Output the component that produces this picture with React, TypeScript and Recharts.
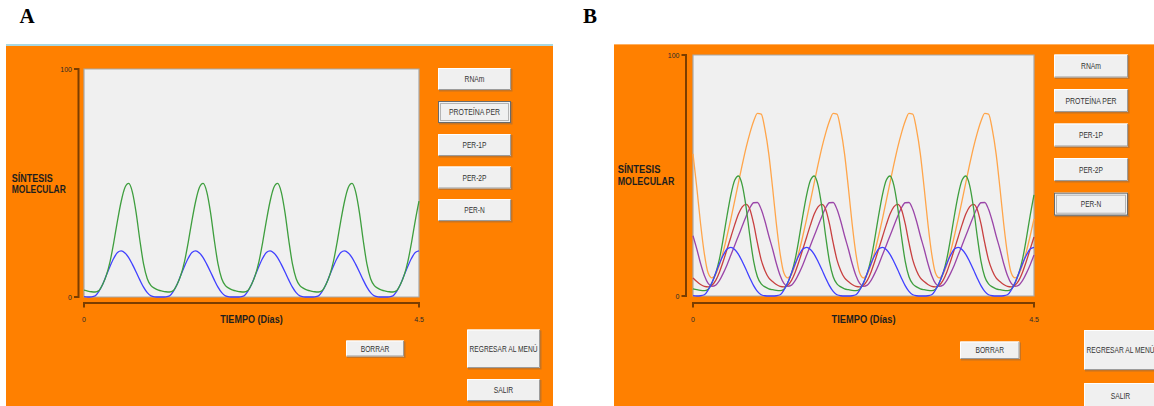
import React from 'react';
import { LineChart, Line, XAxis, YAxis, CartesianGrid, ReferenceArea } from 'recharts';

// ---------- data ----------
const TIME = [
  0, 0.05, 0.1, 0.15, 0.2, 0.25, 0.3, 0.35, 0.4, 0.45, 0.5, 0.55, 0.6, 0.65, 0.7, 0.75, 0.8, 0.85, 0.9, 0.95,
  1, 1.05, 1.1, 1.15, 1.2, 1.25, 1.3, 1.35, 1.4, 1.45, 1.5, 1.55, 1.6, 1.65, 1.7, 1.75, 1.8, 1.85, 1.9, 1.95,
  2, 2.05, 2.1, 2.15, 2.2, 2.25, 2.3, 2.35, 2.4, 2.45, 2.5, 2.55, 2.6, 2.65, 2.7, 2.75, 2.8, 2.85, 2.9, 2.95,
  3, 3.05, 3.1, 3.15, 3.2, 3.25, 3.3, 3.35, 3.4, 3.45, 3.5, 3.55, 3.6, 3.65, 3.7, 3.75, 3.8, 3.85, 3.9, 3.95,
  4, 4.05, 4.1, 4.15, 4.2, 4.25, 4.3, 4.35, 4.4, 4.45, 4.5,
];

const RNAM = [
  0.2, 0.0, 0.1, 0.5, 2.5, 5.5, 9.5, 13.5, 17.0, 19.5, 20.2, 19.3, 17.3, 14.3, 11.0, 7.5, 4.3, 1.9, 0.5, 0.1,
  0.0, 0.0, 0.1, 0.5, 2.5, 5.5, 9.5, 13.5, 17.0, 19.5, 20.2, 19.3, 17.3, 14.3, 11.0, 7.5, 4.3, 1.9, 0.5, 0.1,
  0.0, 0.0, 0.1, 0.5, 2.5, 5.5, 9.5, 13.5, 17.0, 19.5, 20.2, 19.3, 17.3, 14.3, 11.0, 7.5, 4.3, 1.9, 0.5, 0.1,
  0.0, 0.0, 0.1, 0.5, 2.5, 5.5, 9.5, 13.5, 17.0, 19.5, 20.2, 19.3, 17.3, 14.3, 11.0, 7.5, 4.3, 1.9, 0.5, 0.1,
  0.0, 0.0, 0.1, 0.5, 2.5, 5.5, 9.5, 13.5, 17.0, 19.5, 20.2,
];

const PROTEINA_PER = [
  3.0, 2.6, 2.3, 2.2, 2.8, 5.5, 9.5, 15.5, 24.0, 33.5, 42.0, 48.0, 49.8, 46.0, 37.0, 25.0, 14.5, 8.0, 5.0, 3.8,
  3.0, 2.6, 2.3, 2.2, 2.8, 5.5, 9.5, 15.5, 24.0, 33.5, 42.0, 48.0, 49.8, 46.0, 37.0, 25.0, 14.5, 8.0, 5.0, 3.8,
  3.0, 2.6, 2.3, 2.2, 2.8, 5.5, 9.5, 15.5, 24.0, 33.5, 42.0, 48.0, 49.8, 46.0, 37.0, 25.0, 14.5, 8.0, 5.0, 3.8,
  3.0, 2.6, 2.3, 2.2, 2.8, 5.5, 9.5, 15.5, 24.0, 33.5, 42.0, 48.0, 49.8, 46.0, 37.0, 25.0, 14.5, 8.0, 5.0, 3.8,
  3.0, 2.6, 2.3, 2.2, 2.8, 5.5, 9.5, 15.5, 24.0, 33.5, 42.0,
];

const PER_1P = [
  7.5, 6.0, 4.8, 4.0, 3.8, 4.5, 6.5, 10.0, 14.5, 19.5, 24.5, 29.5, 34.0, 37.0, 38.0, 36.0, 30.0, 22.0, 15.0, 10.5,
  7.5, 6.0, 4.8, 4.0, 3.8, 4.5, 6.5, 10.0, 14.5, 19.5, 24.5, 29.5, 34.0, 37.0, 38.0, 36.0, 30.0, 22.0, 15.0, 10.5,
  7.5, 6.0, 4.8, 4.0, 3.8, 4.5, 6.5, 10.0, 14.5, 19.5, 24.5, 29.5, 34.0, 37.0, 38.0, 36.0, 30.0, 22.0, 15.0, 10.5,
  7.5, 6.0, 4.8, 4.0, 3.8, 4.5, 6.5, 10.0, 14.5, 19.5, 24.5, 29.5, 34.0, 37.0, 38.0, 36.0, 30.0, 22.0, 15.0, 10.5,
  7.5, 6.0, 4.8, 4.0, 3.8, 4.5, 6.5, 10.0, 14.5, 19.5, 24.5,
];

const PER_2P = [
  25.0, 19.5, 13.5, 8.5, 5.2, 4.0, 4.5, 6.5, 9.5, 13.0, 17.0, 21.0, 25.0, 29.0, 33.0, 36.5, 38.7, 38.8, 36.0, 31.0,
  25.0, 19.5, 13.5, 8.5, 5.2, 4.0, 4.5, 6.5, 9.5, 13.0, 17.0, 21.0, 25.0, 29.0, 33.0, 36.5, 38.7, 38.8, 36.0, 31.0,
  25.0, 19.5, 13.5, 8.5, 5.2, 4.0, 4.5, 6.5, 9.5, 13.0, 17.0, 21.0, 25.0, 29.0, 33.0, 36.5, 38.7, 38.8, 36.0, 31.0,
  25.0, 19.5, 13.5, 8.5, 5.2, 4.0, 4.5, 6.5, 9.5, 13.0, 17.0, 21.0, 25.0, 29.0, 33.0, 36.5, 38.7, 38.8, 36.0, 31.0,
  25.0, 19.5, 13.5, 8.5, 5.2, 4.0, 4.5, 6.5, 9.5, 13.0, 17.0,
];

const PER_N = [
  59.0, 45.0, 30.0, 17.5, 9.5, 7.5, 9.0, 13.0, 18.5, 25.0, 32.0, 39.5, 47.0, 54.5, 61.5, 67.5, 72.5, 75.8, 75.5, 69.0,
  59.0, 45.0, 30.0, 17.5, 9.5, 7.5, 9.0, 13.0, 18.5, 25.0, 32.0, 39.5, 47.0, 54.5, 61.5, 67.5, 72.5, 75.8, 75.5, 69.0,
  59.0, 45.0, 30.0, 17.5, 9.5, 7.5, 9.0, 13.0, 18.5, 25.0, 32.0, 39.5, 47.0, 54.5, 61.5, 67.5, 72.5, 75.8, 75.5, 69.0,
  59.0, 45.0, 30.0, 17.5, 9.5, 7.5, 9.0, 13.0, 18.5, 25.0, 32.0, 39.5, 47.0, 54.5, 61.5, 67.5, 72.5, 75.8, 75.5, 69.0,
  59.0, 45.0, 30.0, 17.5, 9.5, 7.5, 9.0, 13.0, 18.5, 25.0, 32.0,
];

const X_TICKS = [0, 4.5];
const Y_TICKS = [0, 100];
const BUTTON_LABELS = ['RNAm', 'PROTEÍNA PER', 'PER-1P', 'PER-2P', 'PER-N'];
const X_LABEL = 'TIEMPO (Días)';
const Y_LABEL = ['SÍNTESIS', 'MOLECULAR'];

const rows = TIME.map((t, i) => ({
  t,
  rnam: RNAM[i],
  per: PROTEINA_PER[i],
  per1p: PER_1P[i],
  per2p: PER_2P[i],
  pern: PER_N[i],
}));

// ---------- styles ----------
const SANS = '"Liberation Sans", Arial, "DejaVu Sans", sans-serif';
const SERIF = '"Liberation Serif", "DejaVu Serif", serif';
const ORANGE = '#FF8000';
const AXIS = '#7A3D00';
const TEXT = '#1E1E1E';

// label widths of the narrow GUI font (layout only)
const BTN_TEXT_W: Record<string, number> = {
  'RNAm': 20,
  'PROTEÍNA PER': 51,
  'PER-1P': 24,
  'PER-2P': 24,
  'PER-N': 20.5,
  'BORRAR': 28.6,
  'SALIR': 19.5,
  'REGRESAR AL MENÚ': 68,
};

const SERIES_A = [
  { key: 'rnam', color: '#4040FF' },
  { key: 'per', color: '#3E9E3E' },
];
const SERIES_B = [
  { key: 'pern', color: '#FFA54A' },
  { key: 'per2p', color: '#9A45A8' },
  { key: 'per1p', color: '#C84040' },
  { key: 'per', color: '#3E9E3E' },
  { key: 'rnam', color: '#4040FF' },
];

type BtnProps = { x: number; y: number; w: number; h: number; label: string; pressed?: boolean };

function Btn({ x, y, w, h, label, pressed }: BtnProps) {
  return (
    <g>
      <rect x={x + 1} y={y + 1} width={w + 0.5} height={h + 0.5} fill="#9A6A40" opacity={0.55} />
      <rect x={x} y={y} width={w} height={h} fill="#F0F0F0" />
      <path d={`M${x + 0.5},${y + h - 0.5} V${y + 0.5} H${x + w - 0.5}`} stroke="#FFFFFF" fill="none" />
      <path d={`M${x + 0.5},${y + h - 0.5} H${x + w - 0.5} V${y + 0.5}`} stroke="#9C9C9C" fill="none" />
      {pressed && (
        <rect x={x + 0.5} y={y + 0.5} width={w - 1} height={h - 1} fill="none" stroke="#6A6A6A" />
      )}
      {pressed && (
        <rect x={x + 2.5} y={y + 2.5} width={w - 5} height={h - 5} fill="none" stroke="#B4B4B4" />
      )}
      <text
        x={x + w / 2}
        y={y + h / 2 + 3}
        textAnchor="middle"
        fontSize={8.3}
        fill="#333333"
        fontFamily={SANS}
        textLength={BTN_TEXT_W[label]}
        lengthAdjust="spacingAndGlyphs"
      >
        {label}
      </text>
    </g>
  );
}

// axis ticks drawn a few pixels away from the plot frame, like the original GUI
const makeXTick = (gap: number, plotW: number, textDy: number) => (props: any) => {
  const { x, y, payload, index } = props;
  const ay = y + gap;
  return (
    <g>
      {index === 0 && <line x1={x - 1} x2={x + plotW + 1} y1={ay} y2={ay} stroke={AXIS} strokeWidth={2} />}
      <line x1={x} x2={x} y1={ay} y2={ay + 4.5} stroke={AXIS} strokeWidth={2} />
      <text x={x} y={y + textDy} textAnchor="middle" fontSize={7} fill="#2A2A2A" fontFamily={SANS}>
        {payload.value}
      </text>
    </g>
  );
};

const makeYTick = (gap: number, plotH: number) => (props: any) => {
  const { x, y, payload } = props;
  const ax = x - gap;
  return (
    <g>
      {payload.value === 0 && <line x1={ax} x2={ax} y1={y + 1} y2={y - plotH - 1} stroke={AXIS} strokeWidth={2} />}
      <line x1={ax - 4.5} x2={ax} y1={y} y2={y} stroke={AXIS} strokeWidth={2} />
      <text x={ax - 6.5} y={y + 2.5} textAnchor="end" fontSize={7} fill="#2A2A2A" fontFamily={SANS}>
        {payload.value}
      </text>
    </g>
  );
};

const makeXLabel = (dy: number, w: number) => (props: any) => {
  const vb = props.viewBox || {};
  return (
    <text
      x={vb.x + vb.width / 2}
      y={vb.y + dy}
      textAnchor="middle"
      fontSize={10.5}
      fontWeight={700}
      fill={TEXT}
      fontFamily={SANS}
      textLength={w}
      lengthAdjust="spacingAndGlyphs"
    >
      {X_LABEL}
    </text>
  );
};

type PanelProps = {
  id: string;
  left: number;
  top: number;
  width: number;
  height: number;
  margin: { top: number; right: number; bottom: number; left: number };
  yWidth: number;
  gapX: number;
  gapY: number;
  labelW: number;
  series: { key: string; color: string }[];
};

function Panel({ id, left, top, width, height, margin, yWidth, gapX, gapY, labelW, series }: PanelProps) {
  const plotW = width - margin.left - margin.right - yWidth;
  const plotH = height - margin.top - margin.bottom - 30;
  const frameBottom = top + height - margin.bottom - 30;
  return (
    <div id={`panel${id}`} style={{ position: 'absolute', left, top, width, height }}>
      <LineChart width={width} height={height} data={rows} margin={margin}>
        <CartesianGrid horizontal={false} vertical={false} fill="#F0F0F0" fillOpacity={1} />
        <XAxis
          dataKey="t"
          type="number"
          domain={[0, 4.5]}
          ticks={X_TICKS}
          height={30}
          axisLine={false}
          tickLine={false}
          tickSize={0}
          tickMargin={0}
          tick={makeXTick(gapX, plotW, 321.5 - frameBottom)}
          label={makeXLabel(323 - frameBottom, labelW)}
        />
        <YAxis
          type="number"
          domain={[0, 100]}
          ticks={Y_TICKS}
          width={yWidth}
          axisLine={false}
          tickLine={false}
          tickSize={0}
          tickMargin={0}
          tick={makeYTick(gapY, plotH)}
        />
        <ReferenceArea x1={0} x2={4.5} y1={0} y2={100} fill="none" stroke="#A8A8A8" strokeWidth={1.2} ifOverflow="visible" />
        {series.map((s) => (
          <Line
            key={s.key}
            dataKey={s.key}
            stroke={s.color}
            strokeWidth={1.3}
            type="monotone"
            dot={false}
            activeDot={false}
            isAnimationActive={false}
          />
        ))}
      </LineChart>
    </div>
  );
}

const BTN_A_Y = [68, 101, 134, 166.5, 199];
const BTN_B_Y = [54.5, 89, 123.5, 158, 192.7];

function YLabel({ x, y1, y2, w1, w2 }: { x: number; y1: number; y2: number; w1: number; w2: number }) {
  return (
    <g>
      <text x={x} y={y1} fontFamily={SANS} fontWeight={700} fontSize={10.5} fill={TEXT} textLength={w1} lengthAdjust="spacingAndGlyphs">
        {Y_LABEL[0]}
      </text>
      <text x={x} y={y2} fontFamily={SANS} fontWeight={700} fontSize={10.5} fill={TEXT} textLength={w2} lengthAdjust="spacingAndGlyphs">
        {Y_LABEL[1]}
      </text>
    </g>
  );
}

export default function App() {
  return (
    <div style={{ position: 'absolute', left: 0, top: 0, width: 1154, height: 406, background: '#FFFFFF', overflow: 'hidden' }}>
      <svg width={1154} height={406} style={{ position: 'absolute', left: 0, top: 0 }}>
        {/* panel letters */}
        <text x={19.5} y={22.7} fontFamily={SERIF} fontWeight={700} fontSize={21} fill="#000">A</text>
        <text x={583} y={22.7} fontFamily={SERIF} fontWeight={700} fontSize={21} fill="#000">B</text>

        {/* window A */}
        <rect x={6} y={44} width={547} height={2} fill="#A8D8E2" />
        <rect x={6} y={46} width={547} height={360} fill={ORANGE} />
        {/* window B */}
        <rect x={614} y={44} width={540} height={362} fill={ORANGE} />
        <rect x={614} y={44} width={540} height={1} fill="#FFB060" />

        {/* y labels */}
        <YLabel x={11.8} y1={181.5} y2={192.5} w1={41} w2={54} />
        <YLabel x={617.7} y1={173.3} y2={185} w1={42.8} w2={56.6} />

        {/* buttons A */}
        {BUTTON_LABELS.map((l, i) => (
          <Btn key={`a${i}`} x={438} y={BTN_A_Y[i]} w={73} h={22} label={l} pressed={i === 1} />
        ))}
        <Btn x={346} y={340.5} w={58} h={16} label="BORRAR" />
        <Btn x={467} y={329.5} w={73} h={38.5} label="REGRESAR AL MENÚ" />
        <Btn x={467} y={379} w={73} h={22} label="SALIR" />

        {/* buttons B */}
        {BUTTON_LABELS.map((l, i) => (
          <Btn key={`b${i}`} x={1054} y={BTN_B_Y[i]} w={74} h={23} label={l} pressed={i === 4} />
        ))}
        <Btn x={960} y={341.5} w={59.5} h={17.5} label="BORRAR" />
        <Btn x={1084} y={330} w={73} h={40} label="REGRESAR AL MENÚ" />
        <Btn x={1084} y={383} w={73} h={25} label="SALIR" />
      </svg>

      <Panel
        id="A"
        left={20}
        top={55}
        width={410}
        height={280}
        margin={{ top: 14, right: 11, bottom: 8, left: 0 }}
        yWidth={64}
        gapX={6}
        gapY={5.5}
        labelW={62.4}
        series={SERIES_A}
      />
      <Panel
        id="B"
        left={630}
        top={40}
        width={414}
        height={295}
        margin={{ top: 15, right: 10, bottom: 9, left: 0 }}
        yWidth={63}
        gapX={7}
        gapY={7}
        labelW={64}
        series={SERIES_B}
      />
    </div>
  );
}
